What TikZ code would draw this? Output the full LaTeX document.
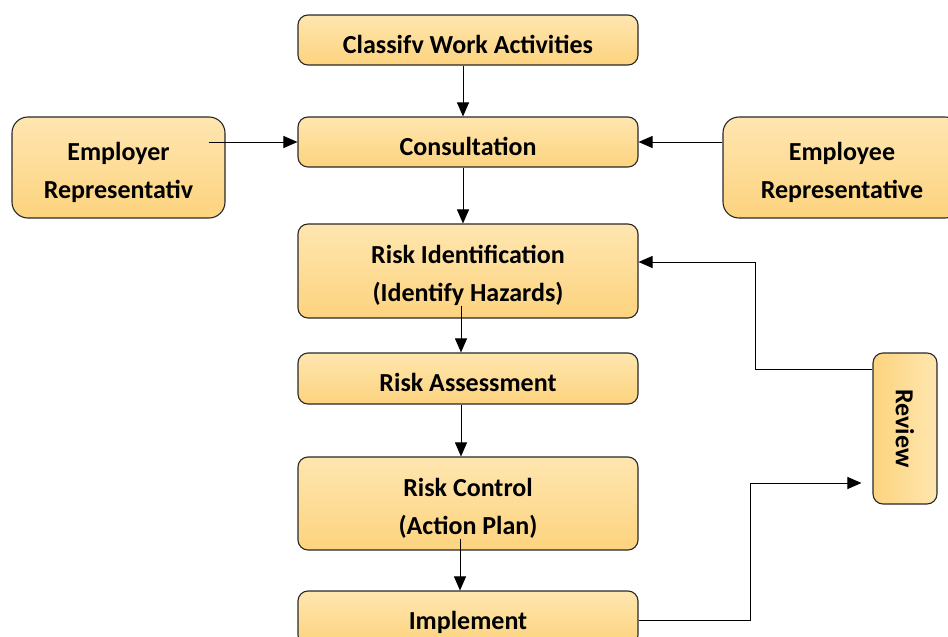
\documentclass[tikz,border=0pt]{standalone}
\usepackage{fontspec}
\setmainfont{Carlito}
\usetikzlibrary{arrows.meta}
\definecolor{boxtop}{RGB}{254,230,176}
\definecolor{boxbot}{RGB}{253,211,126}
\definecolor{boxline}{RGB}{40,40,40}
\begin{document}
\begin{tikzpicture}[x=1pt,y=-1pt]
			\tikzstyle{every node}=[font=\fontsize{26}{38}\selectfont\bfseries,align=center]
			\tikzstyle{box}=[draw=boxline,line width=1.1pt,rounded corners=10pt,
			top color=boxtop,bottom color=boxbot,minimum width=340pt,minimum height=50pt,inner sep=0pt,
			execute at begin node={\rule{0pt}{27pt}}]
			\tikzstyle{twoline}=[execute at begin node={\rule{0pt}{66pt}}]
			\tikzstyle{side}=[box,twoline,rounded corners=16pt,minimum width=213pt,minimum height=101pt]
			\tikzstyle{arr}=[line width=1pt,-{Triangle[length=14pt,width=12pt]}]
			\useasboundingbox (0,0) rectangle (948,637);
			\clip (0,0) rectangle (948,637);
			% main column
			\node[box] (cls) at (468,40) {Classifv Work Activities};
			\node[box] (cons) at (468,142) {Consultation};
			\node[box,twoline,minimum height=94pt] (riskid) at (468,271) {Risk Identification\\(Identify Hazards)};
			\node[box,minimum height=51pt] (assess) at (468,378.5) {Risk Assessment};
			\node[box,twoline,minimum height=93pt] (control) at (468,503.5) {Risk Control\\(Action Plan)};
			\node[box,minimum height=54pt] (impl) at (468,618) {Implement};
			% representatives
			\node[side] (employer) at (118.5,167.5) {Employer\\Representativ};
			\node[side,minimum width=238pt] (employee) at (842,167.5) {Employee\\Representative};
			% review
			\node[box,left color=boxbot,right color=boxtop,minimum width=64pt,minimum height=151pt,
			execute at begin node={}] (review) at (905,428.5) {\rotatebox[origin=c]{-90}{Review}};
			% connectors
			\draw[arr] ([xshift=-5pt]cls.south) -- ([xshift=-5pt]cons.north);
			\draw[arr] ([xshift=-17pt,yshift=25.5pt]employer.east) -- (cons.west);
			\draw[arr] (employee.west |- cons.east) -- (cons.east);
			\draw[arr] ([xshift=-5pt]cons.south) -- ([xshift=-5pt]riskid.north);
			\draw[arr] ([xshift=-7pt,yshift=13pt]riskid.south) -- ([xshift=-7pt]assess.north);
			\draw[arr] ([xshift=-7pt]assess.south) -- ([xshift=-7pt]control.north);
			\draw[arr] ([xshift=-8pt,yshift=12pt]control.south) -- ([xshift=-8pt]impl.north);
			\draw[arr] ([yshift=-2pt]impl.east) -- ++(112,0) |- ([xshift=-11pt,yshift=-54.5pt]review.west);
			\draw[arr] ([yshift=59.5pt]review.west) -- ++(-117,0) |- ([yshift=9pt]riskid.east);
\end{tikzpicture}
\end{document}
